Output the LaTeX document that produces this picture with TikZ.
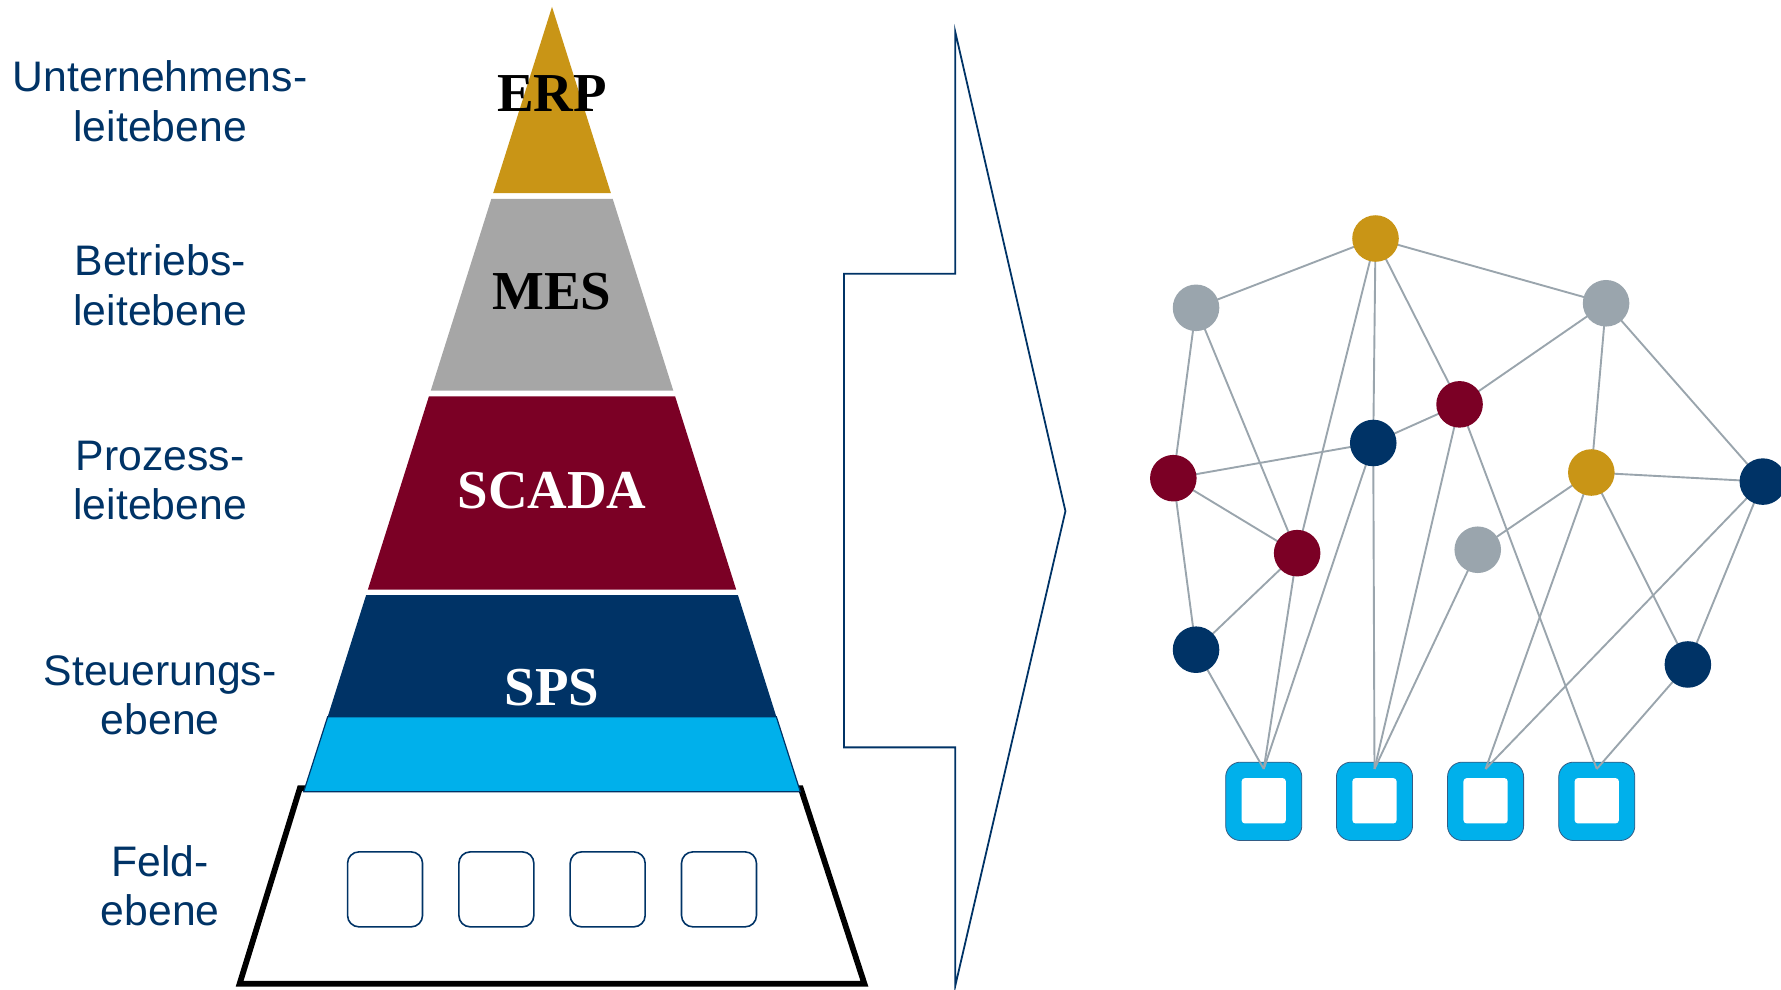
\documentclass[tikz,border=0pt]{standalone}
\usepackage{fontspec}
\setmainfont{Liberation Serif}
\newfontfamily\labelfont{Liberation Sans}
\definecolor{navy}{HTML}{003366}
\definecolor{gold}{HTML}{C99516}
\definecolor{mesgray}{HTML}{A6A6A6}
\definecolor{maroon}{HTML}{7B0025}
\definecolor{skyblue}{HTML}{00B0EB}
\definecolor{netgray}{HTML}{9AA5AD}
\begin{document}
\begin{tikzpicture}[x=0.02cm,y=-0.02cm,
  levellabel/.style={font=\labelfont\fontsize{21.4}{24.8}\selectfont, text=navy, align=center, inner sep=0pt},
  layertext/.style={font=\bfseries\fontsize{27.5}{30}\selectfont, inner sep=0pt},
  dot/.style={circle, fill=#1, draw=none, minimum size=0.82cm, inner sep=0pt},
  link/.style={draw=netgray, line width=0.95pt},
  devbox/.style={draw=navy, line width=0.8pt, rounded corners=0.2cm},
  netdev/.style={fill=skyblue, draw=navy!80, line width=0.4pt, rounded corners=0.26cm},
  netdevhole/.style={fill=white, draw=none, rounded corners=0.06cm}
]
\useasboundingbox (0,0) rectangle (1568,871);

% ---------- level labels ----------
\node[levellabel] (lerp) at (141,89)  {Unternehmens-\\leitebene};
\node[levellabel] (lmes) at (141,251) {Betriebs-\\leitebene};
\node[levellabel] (lscada) at (141,423) {Prozess-\\leitebene};
\node[levellabel] (lsps) at (141,612) {Steuerungs-\\ebene};
\node[levellabel] (lfeld) at (141,780) {Feld-\\ebene};

% ---------- pyramid ----------
% field level (top edge hidden under the light blue band)
\draw[line width=2.9pt, fill=white, line join=miter] (264,694) -- (705,694) -- (761,866) -- (211,866) -- cycle;
\fill[gold]    (486,6) -- (537.8,170) -- (434.2,170) -- cycle;
\fill[mesgray] (432.6,175) -- (539.4,175) -- (592.8,344) -- (379.2,344) -- cycle;
\fill[maroon]  (377.6,349) -- (594.4,349) -- (648.1,519) -- (323.9,519) -- cycle;
\fill[navy]    (322.3,524) -- (649.7,524) -- (683.5,631) -- (288.5,631) -- cycle;
\draw[fill=skyblue, draw=navy, line width=0.6pt] (288.5,631) -- (683.5,631) -- (704.6,697) -- (267.4,697) -- cycle;

\node[layertext, text=black] (erp) at (486,82) {ERP};
\node[layertext, text=black] (mes) at (486,257) {MES};
\node[layertext, text=white] (scada) at (486,432) {SCADA};
\node[layertext, text=white] (sps) at (486,605) {SPS};

% field devices
\foreach \x/\n in {339/1, 437/2, 535/3, 633/4}
  \draw[devbox] (\x-33,750) rectangle (\x+33,816);

% ---------- transition arrow ----------
\draw[navy, line width=0.9pt, line join=miter]
  (841,28) -- (841,241) -- (743,241) -- (743,658) -- (841,658) -- (841,868) -- (938,450) -- cycle;

% ---------- networked devices ----------
\foreach \x/\n in {1112.6/1, 1210.1/2, 1307.9/3, 1405.8/4} {
  \draw[netdev] (\x-33.5,671) rectangle (\x+33.5,740);
  \fill[netdevhole] (\x-19.5,685) rectangle (\x+19.5,725);
  \coordinate (p\n) at (\x,677);
}

\coordinate (G1) at (1211,210);
\coordinate (A1) at (1053,271);
\coordinate (A2) at (1414,267);
\coordinate (R1) at (1285,356);
\coordinate (B1) at (1209,390);
\coordinate (R2) at (1033,421);
\coordinate (G2) at (1401,416);
\coordinate (B2) at (1552,424);
\coordinate (R3) at (1142,487);
\coordinate (A3) at (1301,484);
\coordinate (B3) at (1053,572);
\coordinate (B4) at (1486,585);

\foreach \a/\b in {G1/A1, G1/A2, G1/R3, G1/B1, G1/R1, A1/R2, A1/R3, A2/R1, A2/G2, A2/B2,
                   R2/B1, B1/R1, R2/R3, R2/B3, R3/B3, R3/p1, B3/p1, B1/p1, B1/p2, R1/p2,
                   A3/p2, A3/G2, R1/p4, G2/B2, G2/p3, G2/B4, B2/p3, B2/B4, B4/p4}
  \draw[link] (\a) -- (\b);

\node[dot=gold]    (nG1) at (G1) {};
\node[dot=netgray] (nA1) at (A1) {};
\node[dot=netgray] (nA2) at (A2) {};
\node[dot=maroon]  (nR1) at (R1) {};
\node[dot=navy]    (nB1) at (B1) {};
\node[dot=maroon]  (nR2) at (R2) {};
\node[dot=gold]    (nG2) at (G2) {};
\node[dot=navy]    (nB2) at (B2) {};
\node[dot=maroon]  (nR3) at (R3) {};
\node[dot=netgray] (nA3) at (A3) {};
\node[dot=navy]    (nB3) at (B3) {};
\node[dot=navy]    (nB4) at (B4) {};
\end{tikzpicture}
\end{document}
